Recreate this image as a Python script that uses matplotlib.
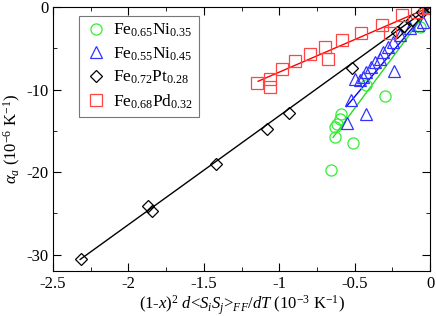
import numpy as np
import matplotlib
matplotlib.use("Agg")
import matplotlib.pyplot as plt

plt.rcParams['font.family'] = ['Liberation Serif', 'DejaVu Serif']
plt.rcParams['mathtext.fontset'] = 'custom'
plt.rcParams['mathtext.rm'] = 'Liberation Serif'
plt.rcParams['mathtext.it'] = 'Liberation Serif:italic'

# Fe0.65Ni0.35 (green circles)
ni35_x = [-0.654, -0.632, -0.628, -0.599, -0.588, -0.615, -0.511, -0.422, -0.300, -0.066, 0.0]
ni35_y = [-19.8, -14.5, -15.7, -13.6, -12.96, -14.2, -16.5, -9.5, -10.8, -2.4, 0.0]
ni35_fit_x = [-0.643, 0.0]
ni35_fit_y = [-15.8, 0.0]

# Fe0.55Ni0.45 (blue triangles)
ni45_x = [-0.548, -0.522, -0.422, -0.499, -0.466, -0.444, -0.422, -0.389, -0.367, -0.334,
          -0.312, -0.279, -0.245, -0.239, -0.201, -0.135, -0.080, -0.046, 0.0]
ni45_y = [-14.1, -11.26, -12.96, -8.7, -8.9, -8.5, -7.9, -7.3, -6.7, -6.3,
          -5.45, -4.8, -4.2, -7.77, -3.4, -2.6, -2.2, -1.8, 0.0]
ni45_fit_x = [-0.555, 0.0]
ni45_fit_y = [-12.07, 0.0]

# Fe0.72Pt0.28 (black diamonds)
pt_x = [-2.316, -1.868, -1.845, -1.419, -1.079, -0.937, -0.517, -0.22, -0.17, -0.12, -0.05, 0.0]
pt_y = [-30.6, -24.1, -24.75, -19.06, -14.8, -12.9, -7.36, -3.0, -2.3, -1.6, -0.6, 0.0]
pt_fit_x = [-2.32, 0.0]
pt_fit_y = [-30.6, 0.0]

# Fe0.68Pd0.32 (red squares)
pd_x = [-1.145, -1.063, -1.063, -0.981, -0.893, -0.798, -0.698, -0.676, -0.584, -0.456,
        -0.32, -0.265, -0.188, -0.088, -0.033, -0.011]
pd_y = [-9.2, -9.7, -8.7, -7.5, -6.55, -5.65, -4.9, -6.3, -4.0, -3.1,
        -2.2, -3.2, -0.98, -0.57, -0.16, 0.0]
pd_fit_x = [-1.14, 0.0]
pd_fit_y = [-9.0, 0.0]

fig = plt.figure(figsize=(4.36, 3.16), dpi=100)
ax = fig.add_axes([0.1216, 0.1424, 0.8647, 0.8354])

ax.plot(ni35_fit_x, ni35_fit_y, color='#22dd22', lw=1)
ax.plot(ni45_fit_x, ni45_fit_y, color='#0000ff', lw=1)
ax.plot(pt_fit_x, pt_fit_y, color='black', lw=1)
ax.plot(pd_fit_x, pd_fit_y, color='#ff0000', lw=1)

ax.plot(ni35_x, ni35_y, 'o', ms=8, mfc='none', mec='#33ee33', mew=0.9,
        label=r'Fe$_{0.65}$Ni$_{0.35}$')
ax.plot(ni45_x, ni45_y, '^', ms=8, mfc='none', mec='#3333ff', mew=0.9,
        label=r'Fe$_{0.55}$Ni$_{0.45}$')
ax.plot(pt_x, pt_y, 'D', ms=6.5, mfc='none', mec='black', mew=0.9,
        label=r'Fe$_{0.72}$Pt$_{0.28}$')
ax.plot(pd_x, pd_y, 's', ms=8, mfc='none', mec='#ff4444', mew=0.9,
        label=r'Fe$_{0.68}$Pd$_{0.32}$')

ax.set_xlim(-2.5, 0)
ax.set_ylim(-32, 0)
ax.set_xticks([-2.5, -2, -1.5, -1, -0.5, 0])
ax.set_xticklabels(['-2.5', '-2', '-1.5', '-1', '-0.5', '0'])
ax.set_yticks([-30, -20, -10, 0])
ax.set_yticklabels(['-30', '-20', '-10', '0'])
ax.set_xticks(np.arange(-2.25, 0, 0.5), minor=True)
ax.set_yticks([-25, -15, -5], minor=True)
ax.tick_params(which='both', direction='in', top=True, right=True, labelsize=12)
ax.tick_params(which='major', length=6)
ax.tick_params(which='minor', length=3)

ax.set_xlabel(r'(1-$x$)$^2$ $d$<$S_i S_j$>$_{FF}$/$dT$ (10$^{-3}$ K$^{-1}$)', fontsize=12, labelpad=1)
ax.set_ylabel(r'$\alpha_a$ (10$^{-6}$ K$^{-1}$)', fontsize=12, labelpad=2)

leg = ax.legend(loc='upper left', bbox_to_anchor=(0.069, 0.966), borderaxespad=0,
                fontsize=12.5, frameon=True, fancybox=False, edgecolor='#555555',
                borderpad=0.35, handletextpad=0.4, labelspacing=0.35, handlelength=1.2)
leg.get_frame().set_linewidth(0.8)

fig.savefig('out.png', dpi=100)
